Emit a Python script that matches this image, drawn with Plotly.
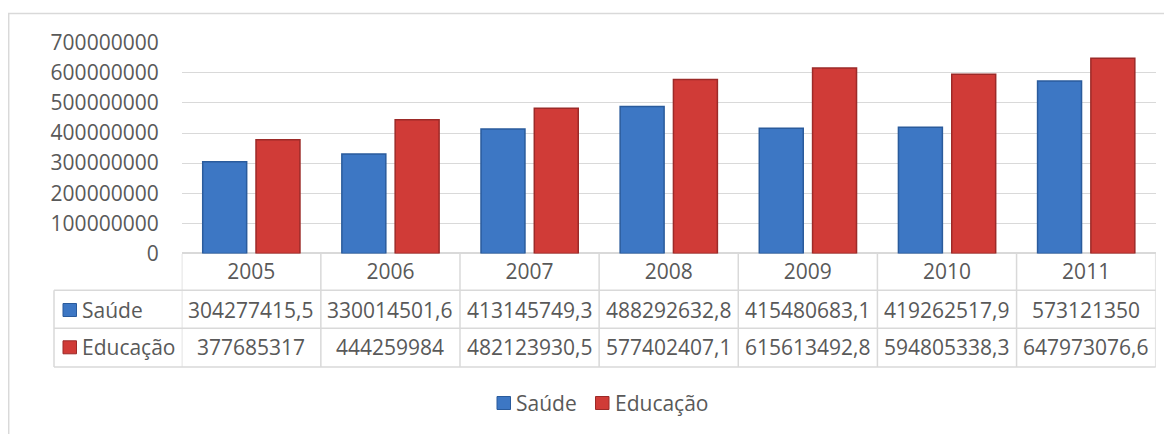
import plotly.graph_objects as go

anos = ['2005', '2006', '2007', '2008', '2009', '2010', '2011']
saude = [304277415.5, 330014501.6, 413145749.3, 488292632.8, 415480683.1, 419262517.9, 573121350]
educacao = [377685317, 444259984, 482123930.5, 577402407.1, 615613492.8, 594805338.3, 647973076.6]
series_names = ['Saúde', 'Educação']

# the page puts an 8px body margin round the figure, so the figure is made
# 8px smaller each way and all pixel positions are measured from that corner
OFF = 8
W, H = 1172 - OFF, 434 - OFF
FONT = 'Open Sans'
TXT = '#595959'
GRID = '#D9D9D9'
BLUE, BLUE_DARK = '#3D77C4', '#2A5B9C'
RED, RED_DARK = '#D03B37', '#9C2A28'


def fx(p):
    return (p - OFF) / W


def fy(p):
    return 1 - (p - OFF) / H


def fmt(v):
    # numbers shown with a decimal comma, as in the original table
    if float(v).is_integer():
        return str(int(v))
    return f'{v:.1f}'.replace('.', ',')


fig = go.Figure()

fig.add_trace(go.Bar(
    x=anos, y=saude, name=series_names[0],
    width=0.316, offset=-0.349,
    marker=dict(color=BLUE, line=dict(color=BLUE_DARK, width=1.5)),
    showlegend=False
))
fig.add_trace(go.Bar(
    x=anos, y=educacao, name=series_names[1],
    width=0.316, offset=0.034,
    marker=dict(color=RED, line=dict(color=RED_DARK, width=1.5)),
    showlegend=False
))

shapes = []
annotations = []

# chart area border (left and top edges visible)
shapes.append(dict(type='line', xref='paper', yref='paper', x0=fx(8.7), x1=fx(8.7),
                   y0=fy(13), y1=fy(440), line=dict(color=GRID, width=1.5)))
shapes.append(dict(type='line', xref='paper', yref='paper', x0=fx(8), x1=fx(1180),
                   y0=fy(13.5), y1=fy(13.5), line=dict(color=GRID, width=1.5)))

# data table grid
row_lines = [290.3, 328.3, 367]
for ry in row_lines:
    shapes.append(dict(type='line', xref='paper', yref='paper', x0=fx(54), x1=fx(1155.7),
                       y0=fy(ry), y1=fy(ry), line=dict(color=GRID, width=1.5)))
shapes.append(dict(type='line', xref='paper', yref='paper', x0=fx(54), x1=fx(54),
                   y0=fy(290.3), y1=fy(367), line=dict(color=GRID, width=1.5)))
for i in range(len(anos) + 1):
    shapes.append(dict(type='line', xref='x', yref='paper', x0=i - 0.5, x1=i - 0.5,
                       y0=fy(254), y1=fy(367), line=dict(color=GRID, width=1.5)))

row_y = [310, 347.3]
colors = [(BLUE, BLUE_DARK), (RED, RED_DARK)]
for name, vals, ry, (c, cd) in zip(series_names, [saude, educacao], row_y, colors):
    shapes.append(dict(type='rect', xref='paper', yref='paper',
                       x0=fx(63), x1=fx(76.5), y0=fy(ry - 6.5), y1=fy(ry + 6.5),
                       fillcolor=c, line=dict(color=cd, width=1)))
    annotations.append(dict(xref='paper', yref='paper', x=fx(80), y=fy(ry),
                            xanchor='left', yanchor='middle', text=name, showarrow=False,
                            font=dict(family=FONT, size=21, color=TXT)))
    for i, v in enumerate(vals):
        annotations.append(dict(xref='x', yref='paper', x=i, y=fy(ry),
                                xanchor='center', yanchor='middle', text=fmt(v), showarrow=False,
                                font=dict(family=FONT, size=21, color=TXT)))

# legend below the table
leg_y = 403
leg_items = [(497, series_names[0], BLUE, BLUE_DARK), (595.5, series_names[1], RED, RED_DARK)]
for lx, name, c, cd in leg_items:
    shapes.append(dict(type='rect', xref='paper', yref='paper',
                       x0=fx(lx), x1=fx(lx + 13.5), y0=fy(leg_y - 6.5), y1=fy(leg_y + 6.5),
                       fillcolor=c, line=dict(color=cd, width=1)))
    annotations.append(dict(xref='paper', yref='paper', x=fx(lx + 17), y=fy(leg_y),
                            xanchor='left', yanchor='middle', text=name, showarrow=False,
                            font=dict(family=FONT, size=21, color=TXT)))

fig.update_layout(
    width=W, height=H,
    margin=dict(l=0, r=0, t=0, b=0, autoexpand=False),
    paper_bgcolor='white', plot_bgcolor='white',
    font=dict(family=FONT, size=21, color=TXT),
    showlegend=False,
    xaxis=dict(
        domain=[fx(181.7), fx(1155.7)],
        type='category', range=[-0.5, 6.5], automargin=False,
        showgrid=False, showline=False, zeroline=False, ticks='',
        tickfont=dict(family=FONT, size=21, color=TXT),
        ticklabelstandoff=4,
    ),
    yaxis=dict(
        domain=[fy(253.4), fy(42.7)],
        range=[0, 700000000], dtick=100000000, tickformat='d', automargin=False,
        showgrid=True, gridcolor=GRID, gridwidth=1.3,
        zeroline=True, zerolinecolor=GRID, zerolinewidth=1.5,
        showline=False, ticks='',
        tickfont=dict(family=FONT, size=21, color=TXT),
        ticklabelstandoff=22,
    ),
    shapes=shapes,
    annotations=annotations,
)

fig.write_html('out.html')
